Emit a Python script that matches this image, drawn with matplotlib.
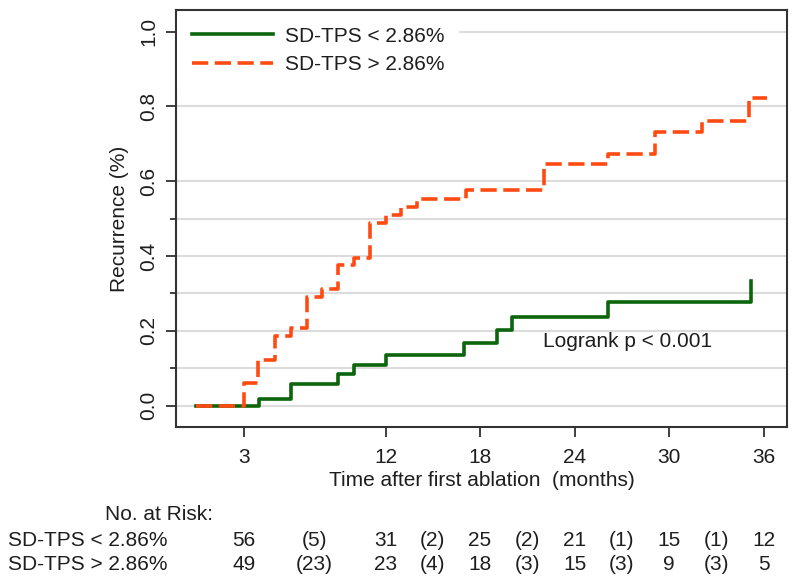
import matplotlib
matplotlib.use('Agg')
import matplotlib.pyplot as plt
import matplotlib.transforms as mtransforms

plt.rcParams['font.family'] = ['Liberation Sans', 'DejaVu Sans']

# 复发曲线数据 (月, 累积复发率)
low_t = [0, 4.0, 6.0, 9.0, 10.0, 12.0, 17.0, 19.1, 20.0, 26.1, 35.2]
low_v = [0, 0.018, 0.057, 0.084, 0.109, 0.136, 0.168, 0.202, 0.236, 0.278, 0.333]
high_t = [0, 3.0, 3.9, 5.0, 6.0, 7.0, 7.95, 9.0, 10.0, 11.0, 12.05, 13.0, 14.0,
          17.1, 22.05, 26.1, 29.1, 32.1, 35.1, 36.2]
high_v = [0, 0.061, 0.122, 0.186, 0.207, 0.29, 0.311, 0.376, 0.396, 0.488, 0.51,
          0.532, 0.552, 0.577, 0.646, 0.672, 0.733, 0.761, 0.822, 0.822]

labels = ['SD-TPS < 2.86%', 'SD-TPS > 2.86%']
x_ticks = [3, 12, 18, 24, 30, 36]

# 风险人数表
risk_cols = [3, 7.5, 12, 15, 18, 21, 24, 27, 30, 33, 36]
risk_low = ['56', '(5)', '31', '(2)', '25', '(2)', '21', '(1)', '15', '(1)', '12']
risk_high = ['49', '(23)', '23', '(4)', '18', '(3)', '15', '(3)', '9', '(3)', '5']

green = '#0b650b'
orange = '#ff4a12'
txt = '#1e1e1e'
fs = 15

fig = plt.figure(figsize=(8, 5.86), dpi=100)
ax = fig.add_axes([0.22, 0.2713, 0.764, 0.7117])

ax.step(low_t, low_v, where='post', color=green, lw=2.6, label=labels[0], zorder=3)
ax.step(high_t, high_v, where='post', color=orange, lw=2.6, dashes=(4.5, 1.8),
        label=labels[1], zorder=4)

ax.set_xlim(-1.3, 37.5)
ax.set_ylim(-0.057, 1.058)
ax.set_xticks(x_ticks)
ax.set_yticks([0, 0.2, 0.4, 0.6, 0.8, 1.0])
ax.set_yticks([0.1, 0.3, 0.5], minor=True)
ax.set_yticklabels(['0.0', '0.2', '0.4', '0.6', '0.8', '1.0'], rotation=90, va='center')
ax.grid(axis='y', which='both', color='#dcdcdc', lw=1.5, zorder=1)
ax.tick_params(axis='both', which='major', labelsize=fs, colors=txt, length=7, width=1.2)
ax.tick_params(axis='y', which='minor', length=4, width=1.2, color=txt)
ax.tick_params(axis='y', pad=6)
ax.tick_params(axis='x', pad=8)
for s in ax.spines.values():
    s.set_color('#333333')
    s.set_linewidth(1.5)

ax.set_xlabel('Time after first ablation  (months)', fontsize=fs, color=txt, labelpad=3)
ax.set_ylabel('Recurrence (%)', fontsize=fs, color=txt, labelpad=7)

leg = ax.legend(loc='upper left', bbox_to_anchor=(0.002, 0.995), borderaxespad=0,
                fontsize=fs, handlelength=3.9, handletextpad=0.55, labelspacing=0.45,
                borderpad=0.7, frameon=True, fancybox=False)
leg.get_frame().set_facecolor('white')
leg.get_frame().set_edgecolor('none')
leg.get_frame().set_alpha(1)
for t in leg.get_texts():
    t.set_color(txt)

ax.text(22, 0.171, 'Logrank p < 0.001', fontsize=fs, color=txt, va='center', ha='left')

# 表格: x 用数据坐标, y 用图坐标
trans = mtransforms.blended_transform_factory(ax.transData, fig.transFigure)
fig.text(159 / 800, 1 - 515 / 586, 'No. at Risk:', fontsize=fs, color=txt, ha='center', va='center')
fig.text(8 / 800, 1 - 541 / 586, labels[0], fontsize=fs, color=txt, ha='left', va='center')
fig.text(8 / 800, 1 - 564 / 586, labels[1], fontsize=fs, color=txt, ha='left', va='center')
for c, a, b in zip(risk_cols, risk_low, risk_high):
    ax.text(c, 1 - 541 / 586, a, transform=trans, fontsize=fs, color=txt, ha='center', va='center', clip_on=False)
    ax.text(c, 1 - 564 / 586, b, transform=trans, fontsize=fs, color=txt, ha='center', va='center', clip_on=False)

fig.savefig('out.png', dpi=100)
